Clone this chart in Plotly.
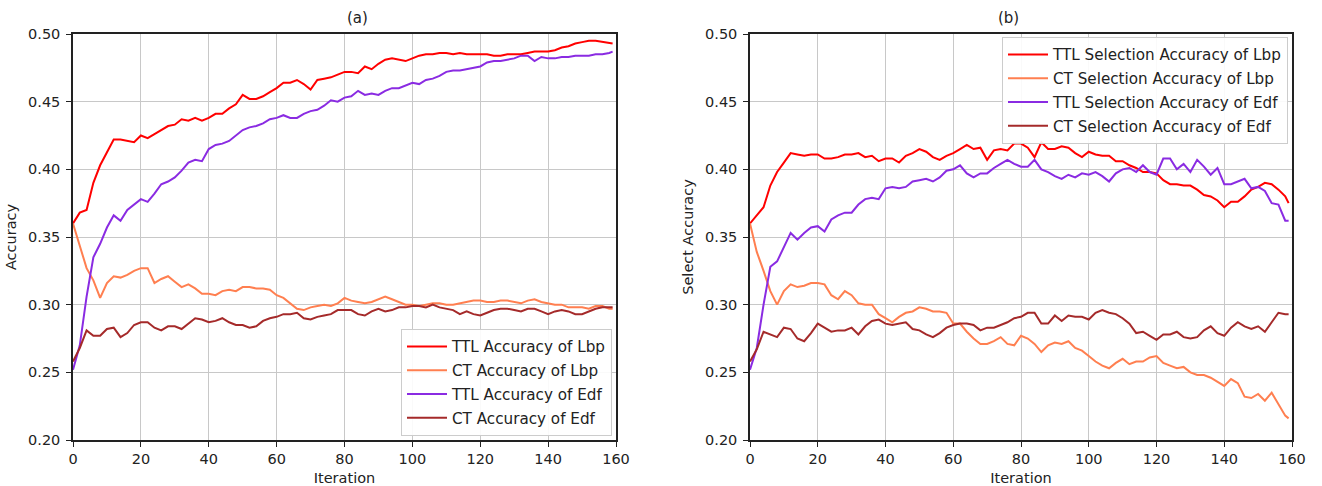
import plotly.graph_objects as go

iterations = list(range(0, 160, 2)) + [159]

# Panel (a): Accuracy
a_ttl_lbp = [0.360,0.368,0.370,0.390,0.403,0.412,0.422,0.422,0.421,0.420,
             0.425,0.423,0.426,0.429,0.432,0.433,0.437,0.436,0.438,0.436,
             0.438,0.441,0.441,0.445,0.448,0.455,0.452,0.452,0.454,0.457,
             0.460,0.464,0.464,0.466,0.463,0.459,0.466,0.467,0.468,0.470,
             0.472,0.472,0.471,0.476,0.474,0.478,0.481,0.482,0.481,0.480,
             0.482,0.484,0.485,0.485,0.486,0.486,0.485,0.486,0.485,0.485,
             0.485,0.485,0.484,0.484,0.485,0.485,0.485,0.486,0.487,0.487,
             0.487,0.488,0.490,0.491,0.493,0.494,0.495,0.495,0.494,0.493,
             0.493]
a_ct_lbp = [0.360,0.343,0.327,0.318,0.305,0.316,0.321,0.320,0.322,0.325,
            0.327,0.327,0.316,0.319,0.321,0.317,0.313,0.315,0.312,0.308,
            0.308,0.307,0.310,0.311,0.310,0.313,0.313,0.312,0.312,0.311,
            0.307,0.305,0.301,0.297,0.296,0.298,0.299,0.300,0.299,0.301,
            0.305,0.303,0.302,0.301,0.302,0.304,0.306,0.304,0.302,0.300,
            0.300,0.299,0.300,0.301,0.301,0.300,0.300,0.301,0.302,0.303,
            0.303,0.302,0.302,0.303,0.303,0.302,0.301,0.303,0.304,0.302,
            0.301,0.300,0.300,0.298,0.298,0.298,0.297,0.299,0.299,0.297,
            0.297]
a_ttl_edf = [0.252,0.270,0.306,0.335,0.345,0.357,0.366,0.362,0.370,0.374,
             0.378,0.376,0.382,0.389,0.391,0.394,0.399,0.405,0.407,0.406,
             0.415,0.418,0.419,0.421,0.425,0.429,0.431,0.432,0.434,0.437,
             0.438,0.440,0.438,0.438,0.441,0.443,0.444,0.447,0.451,0.450,
             0.453,0.454,0.458,0.455,0.456,0.455,0.458,0.460,0.460,0.462,
             0.464,0.463,0.466,0.467,0.469,0.472,0.473,0.473,0.474,0.475,
             0.476,0.479,0.480,0.480,0.481,0.482,0.484,0.484,0.480,0.483,
             0.482,0.482,0.483,0.483,0.484,0.484,0.484,0.485,0.485,0.486,
             0.487]
a_ct_edf = [0.258,0.268,0.281,0.277,0.277,0.282,0.283,0.276,0.279,0.285,
            0.287,0.287,0.283,0.281,0.284,0.284,0.282,0.286,0.290,0.289,
            0.287,0.288,0.290,0.287,0.285,0.285,0.283,0.284,0.288,0.290,
            0.291,0.293,0.293,0.294,0.290,0.289,0.291,0.292,0.293,0.296,
            0.296,0.296,0.293,0.292,0.295,0.297,0.295,0.296,0.298,0.298,
            0.299,0.299,0.298,0.300,0.298,0.297,0.296,0.293,0.295,0.293,
            0.292,0.294,0.296,0.297,0.297,0.296,0.295,0.297,0.297,0.295,
            0.293,0.295,0.296,0.295,0.293,0.293,0.295,0.297,0.298,0.298,
            0.298]

# Panel (b): Select Accuracy
b_ttl_lbp = [0.360,0.366,0.372,0.388,0.398,0.405,0.412,0.411,0.410,0.411,
             0.411,0.408,0.408,0.409,0.411,0.411,0.412,0.409,0.410,0.406,
             0.408,0.408,0.405,0.410,0.412,0.415,0.413,0.409,0.407,0.410,
             0.412,0.415,0.418,0.415,0.416,0.407,0.414,0.415,0.414,0.419,
             0.419,0.416,0.409,0.420,0.415,0.415,0.417,0.416,0.412,0.409,
             0.413,0.411,0.410,0.410,0.406,0.406,0.403,0.401,0.398,0.398,
             0.397,0.392,0.389,0.389,0.388,0.388,0.385,0.381,0.380,0.377,
             0.372,0.376,0.376,0.380,0.385,0.387,0.390,0.389,0.385,0.380,
             0.375]
b_ct_lbp = [0.360,0.339,0.325,0.310,0.300,0.310,0.315,0.313,0.314,0.316,
            0.316,0.315,0.307,0.304,0.310,0.307,0.301,0.300,0.300,0.293,
            0.290,0.287,0.291,0.294,0.295,0.298,0.297,0.295,0.295,0.294,
            0.286,0.286,0.280,0.275,0.271,0.271,0.273,0.276,0.271,0.270,
            0.277,0.275,0.271,0.265,0.270,0.272,0.271,0.273,0.268,0.266,
            0.262,0.258,0.255,0.253,0.257,0.260,0.256,0.258,0.258,0.261,
            0.262,0.257,0.255,0.253,0.254,0.250,0.248,0.248,0.246,0.243,
            0.240,0.245,0.242,0.232,0.231,0.234,0.229,0.235,0.227,0.218,
            0.216]
b_ttl_edf = [0.252,0.268,0.300,0.328,0.332,0.343,0.353,0.348,0.353,0.357,
             0.358,0.354,0.363,0.366,0.368,0.368,0.374,0.378,0.379,0.378,
             0.386,0.387,0.386,0.387,0.391,0.392,0.393,0.391,0.394,0.399,
             0.400,0.403,0.397,0.394,0.397,0.397,0.401,0.404,0.407,0.404,
             0.402,0.402,0.407,0.400,0.398,0.395,0.393,0.396,0.394,0.397,
             0.396,0.398,0.395,0.391,0.397,0.400,0.401,0.398,0.403,0.398,
             0.396,0.408,0.408,0.400,0.404,0.398,0.407,0.402,0.396,0.401,
             0.389,0.389,0.391,0.393,0.386,0.387,0.384,0.375,0.374,0.362,
             0.362]
b_ct_edf = [0.258,0.267,0.280,0.278,0.276,0.283,0.282,0.275,0.273,0.279,
            0.286,0.283,0.280,0.281,0.281,0.283,0.278,0.284,0.288,0.289,
            0.286,0.285,0.286,0.287,0.282,0.281,0.278,0.276,0.279,0.283,
            0.285,0.286,0.286,0.285,0.281,0.283,0.283,0.285,0.287,0.290,
            0.291,0.294,0.294,0.286,0.286,0.292,0.288,0.292,0.291,0.291,
            0.289,0.294,0.296,0.294,0.293,0.290,0.286,0.279,0.280,0.277,
            0.274,0.278,0.278,0.280,0.276,0.275,0.276,0.281,0.284,0.279,
            0.277,0.283,0.287,0.284,0.282,0.284,0.280,0.287,0.294,0.293,
            0.293]

names_a = ["TTL Accuracy of Lbp", "CT Accuracy of Lbp", "TTL Accuracy of Edf", "CT Accuracy of Edf"]
names_b = ["TTL Selection Accuracy of Lbp", "CT Selection Accuracy of Lbp",
           "TTL Selection Accuracy of Edf", "CT Selection Accuracy of Edf"]
colors = ["#ff0000", "#ff7f50", "#8a2be2", "#a52a2a"]
y_ticks = [0.20, 0.25, 0.30, 0.35, 0.40, 0.45, 0.50]
x_ticks = [0, 20, 40, 60, 80, 100, 120, 140, 160]

FONT = "DejaVu Sans"
TXT = "#222222"
fig = go.Figure()
for i, (name, ys) in enumerate(zip(names_a, [a_ttl_lbp, a_ct_lbp, a_ttl_edf, a_ct_edf])):
    fig.add_trace(go.Scatter(x=iterations, y=ys, mode="lines", name=name,
                             line=dict(color=colors[i], width=2),
                             xaxis="x", yaxis="y", legend="legend",
                             legendgroup="a%d" % i))
for i, (name, ys) in enumerate(zip(names_b, [b_ttl_lbp, b_ct_lbp, b_ttl_edf, b_ct_edf])):
    fig.add_trace(go.Scatter(x=iterations, y=ys, mode="lines", name=name,
                             line=dict(color=colors[i], width=2),
                             xaxis="x2", yaxis="y2", legend="legend2",
                             legendgroup="b%d" % i))

axis_common = dict(showgrid=True, gridcolor="#c8c8c8", gridwidth=1,
                   showline=True, linecolor=TXT, linewidth=1.5, mirror=True,
                   ticks="outside", ticklen=5, tickwidth=1.2, tickcolor=TXT,
                   tickfont=dict(family=FONT, size=14.5, color=TXT),
                   zeroline=False, automargin=False)

xa = dict(axis_common, range=[0, 160], tickvals=x_ticks,
          title=dict(text="Iteration", font=dict(family=FONT, size=14.5, color=TXT), standoff=11))
ya = dict(axis_common, range=[0.2, 0.5], tickvals=y_ticks, tickformat=".2f", ticklabelstandoff=3)

legend_common = dict(font=dict(family=FONT, size=15.2, color=TXT),
                     bgcolor="rgba(255,255,255,0.9)", bordercolor="#cccccc", borderwidth=1,
                     xanchor="left", yanchor="top", tracegroupgap=1, traceorder="grouped",
                     itemwidth=40)

fig.update_layout(
    width=1322, height=486,
    margin=dict(l=0, r=0, t=0, b=0, autoexpand=False),
    paper_bgcolor="white", plot_bgcolor="white",
    font=dict(family=FONT, size=14.5, color=TXT),
    xaxis=dict(xa, domain=[73/1322, 616/1322], anchor="y"),
    yaxis=dict(ya, domain=[1-440/486, 1-34/486], anchor="x",
               title=dict(text="Accuracy", font=dict(family=FONT, size=14.5, color=TXT), standoff=8)),
    xaxis2=dict(xa, domain=[750/1322, 1292/1322], anchor="y2"),
    yaxis2=dict(ya, domain=[1-440/486, 1-34/486], anchor="x2",
                title=dict(text="Select Accuracy", font=dict(family=FONT, size=14.5, color=TXT), standoff=8)),
    legend=dict(legend_common, x=401/1322, y=1-329/486),
    legend2=dict(legend_common, x=1002/1322, y=1-37/486),
    annotations=[
        dict(text="(a)", x=(73+616)/2/1322, y=1-18/486, xref="paper", yref="paper",
             showarrow=False, font=dict(family=FONT, size=15, color=TXT), yanchor="middle"),
        dict(text="(b)", x=(750+1292)/2/1322, y=1-18/486, xref="paper", yref="paper",
             showarrow=False, font=dict(family=FONT, size=15, color=TXT), yanchor="middle"),
    ],
)

fig.write_html("out.html")
